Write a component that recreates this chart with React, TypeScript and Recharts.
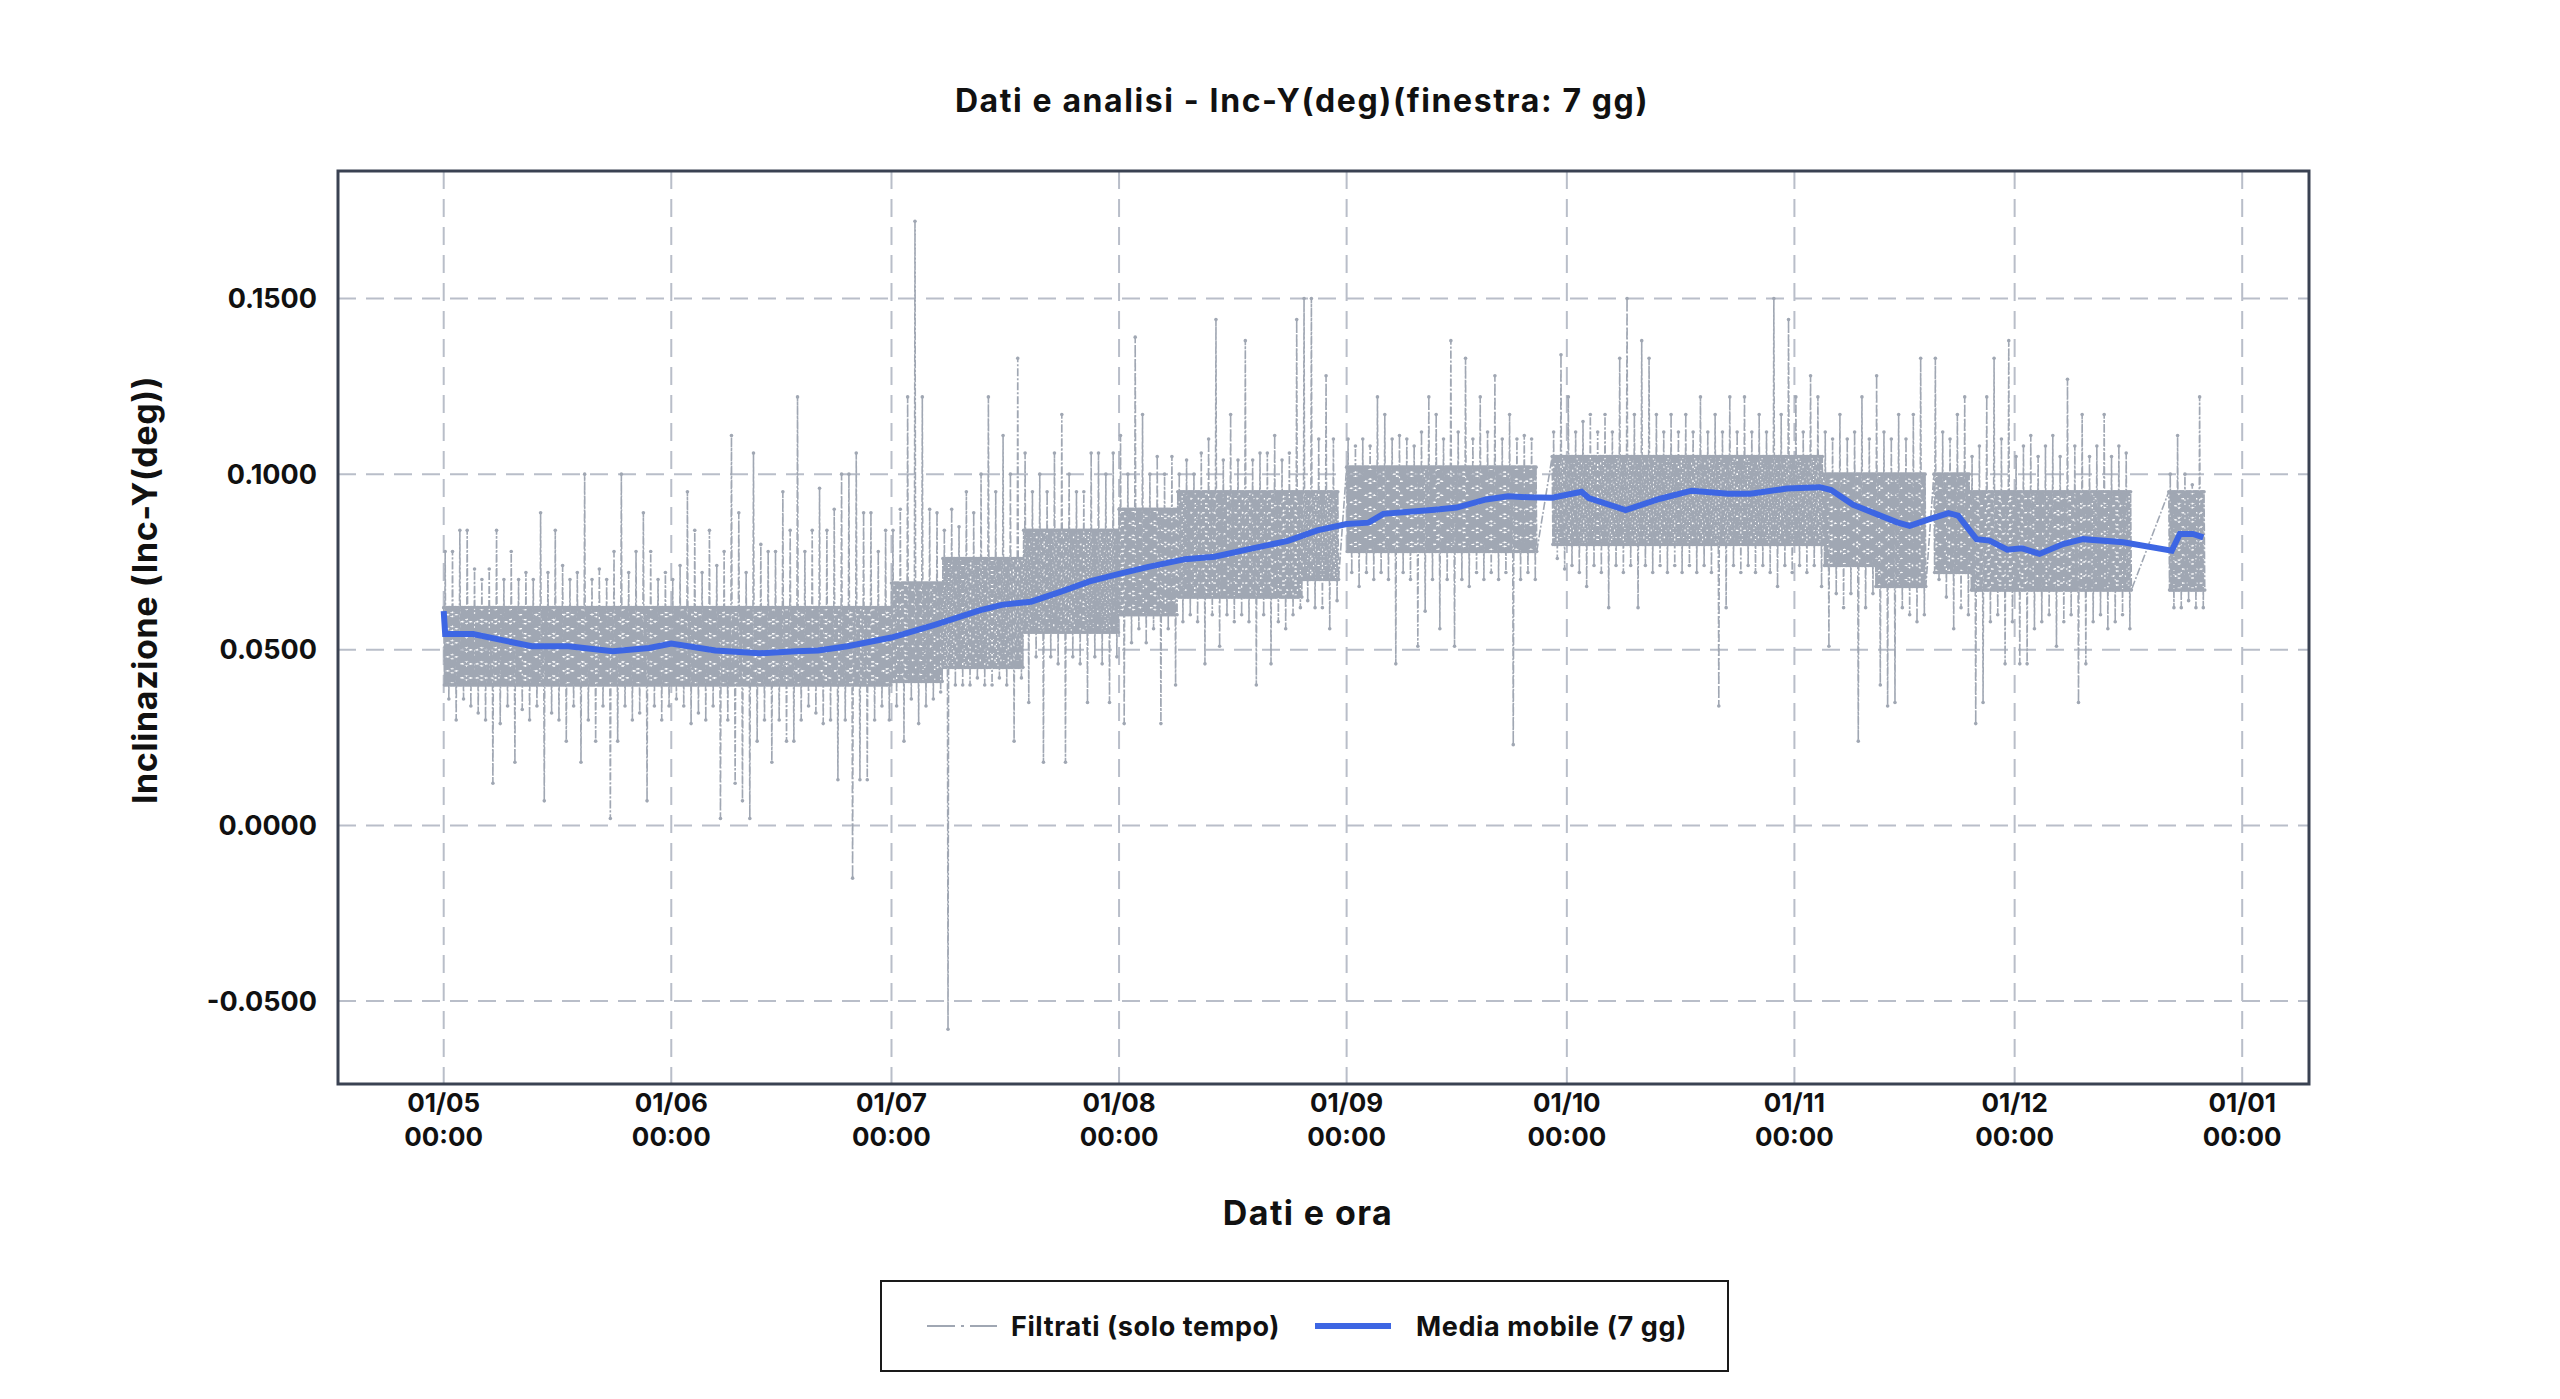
import React from "react";
import { LineChart, Line, XAxis, YAxis, CartesianGrid, ReferenceArea } from "recharts";

// days counted from 01/05; values in thousandths of a degree
const monthTicks = [0, 31, 61, 92, 123, 153, 184, 214, 245];
const monthLabels = ["01/05", "01/06", "01/07", "01/08", "01/09", "01/10", "01/11", "01/12", "01/01"];
const yTicks = [-0.05, 0, 0.05, 0.1, 0.15];

// dense band of the filtered readings, by period
const bandStart = [0, 61, 68, 79, 92, 100, 117, 123, 151, 188, 195, 203, 208, 235];
const bandHi = [62, 69, 76, 84, 90, 95, 95, 102, 105, 100, 100, 100, 95, 95];
const bandLo = [40, 41, 45, 55, 60, 65, 70, 78, 80, 74, 68, 72, 67, 67];

// daily peaks above / below the band (null = no data that day)
const spikeUp = [
  78, 78, 84, 84, 73, 70, 73, 84, 70, 78,
  70, 72, 70, 89, 72, 84, 74, 70, 72, 100,
  70, 73, 70, 78, 100, 72, 78, 89, 78, 70,
  72, 70, 74, 95, 84, 72, 84, 74, 78, 111,
  89, 72, 106, 80, 78, 78, 95, 84, 122, 78,
  84, 96, 84, 90, 100, 100, 106, 89, 89, 78,
  84, 84, 90, 122, 172, 122, 90, 89, 84, 90,
  85, 95, 89, 100, 122, 95, 111, 100, 133, 106,
  95, 100, 95, 106, 117, 100, 95, 95, 106, 106,
  100, 106, 111, 100, 139, 117, 100, 105, 100, 105,
  100, 104, 100, 106, 110, 144, 104, 117, 104, 138,
  104, 106, 106, 111, 104, 106, 144, 150, 150, 110,
  128, 110, null, 110, 108, 110, 108, 122, 117, 110,
  111, 110, 108, 112, 122, 117, 110, 138, 112, 133,
  110, 122, 112, 128, 110, 117, 110, 111, 110, null,
  null, 112, 134, 122, 112, 115, 117, 112, 117, 112,
  133, 150, 117, 138, 133, 117, 112, 117, 112, 117,
  112, 122, 112, 117, 112, 122, 112, 122, 112, 117,
  112, 150, 117, 144, 122, 112, 128, 122, 112, 110,
  117, 110, 112, 122, 110, 128, 112, 110, 117, 110,
  117, 133, null, 133, 112, 110, 117, 122, 105, 108,
  122, 133, 110, 138, 105, 108, 111, 105, 108, 111,
  105, 127, 108, 117, 105, 108, 117, 105, 108, 106,
  null, null, null, null, null, 100, 111, 100, 97, 122,
];
const spikeDown = [
  36, 30, 36, 34, 32, 30, 12, 29, 34, 18,
  33, 30, 34, 7, 32, 30, 24, 34, 18, 30,
  24, 34, 2, 24, 34, 30, 32, 7, 34, 30,
  34, 36, 34, 29, 32, 30, 34, 2, 30, 12,
  7, 2, 24, 30, 18, 30, 24, 24, 30, 34,
  32, 29, 30, 13, 30, -15, 13, 13, 30, 34,
  30, 34, 24, 36, 29, 34, 36, 38, -58, 40,
  40, 40, 42, 40, 40, 42, 40, 24, 42, 35,
  48, 18, 48, 46, 18, 48, 46, 35, 48, 46,
  35, 48, 29, 52, 56, 52, 56, 29, 56, 40,
  58, 60, 58, 46, 60, 51, 60, 58, 60, 58,
  40, 60, 46, 58, 56, 60, 62, 64, 62, 62,
  56, 64, null, 72, 68, 72, 70, 72, 70, 46,
  72, 70, 51, 61, 70, 56, 70, 51, 70, 68,
  72, 70, 72, 70, 72, 23, 70, 72, 70, null,
  null, 76, 73, 74, 72, 68, 74, 72, 62, 74,
  72, 74, 62, 74, 72, 74, 72, 74, 72, 74,
  72, 74, 72, 34, 62, 74, 72, 74, 72, 74,
  72, 68, 74, 72, 74, 72, 74, 68, 51, 66,
  62, 66, 24, 62, 66, 40, 34, 35, 62, 60,
  58, 60, null, 70, 65, 56, 62, 60, 29, 35,
  58, 60, 46, 58, 46, 46, 56, 58, 60, 51,
  58, 60, 35, 46, 58, 60, 56, 58, 60, 56,
  null, null, null, null, null, 62, 62, 64, 62, 62,
];

// 7-day moving average
const maDays = [
  0, 0.2, 4, 12, 17, 23, 28, 31, 37, 43, 48, 51, 55, 61, 67, 73, 76, 80, 84, 88,
  92, 96, 101, 105, 110, 115, 119, 123, 126, 128, 135, 138, 142, 145, 148, 151, 155, 156, 161, 165.7,
  170, 175, 178, 183, 187.5, 189, 192, 198, 199.7, 202.4, 205, 206.3, 208.8, 210.6, 213, 215, 217.4, 220.6, 223.3, 228.8,
  235.4, 236.5, 238.3, 239.7,
];
const maValues = [
  61, 54.5, 54.5, 51, 51, 49.6, 50.5, 51.8, 49.8, 49, 49.6, 49.8, 51, 53.5, 57.2, 61.2, 62.8, 63.7, 66.5, 69.5,
  71.6, 73.6, 75.8, 76.5, 78.8, 81, 84, 85.8, 86.2, 88.7, 89.9, 90.5, 92.8, 93.7, 93.4, 93.3, 95, 93.2, 89.8, 93,
  95.3, 94.4, 94.4, 95.9, 96.3, 95.5, 91.3, 86.3, 85.3, 87.2, 88.9, 88.2, 81.5, 81.1, 78.5, 78.9, 77.3, 80.1, 81.5, 80.6,
  78.2, 83, 83, 82,
];

const X_DOMAIN: [number, number] = [-14.4, 254.1];
const Y_DOMAIN: [number, number] = [-0.0736, 0.1863];
const FONT = "Inter, 'DejaVu Sans', sans-serif";
const GRAY = "#a0a7b3";
const BLUE = "#3d66e3";

function bandIndex(day: number) {
  let k = 0;
  bandStart.forEach((s, i) => {
    if (s <= day) k = i;
  });
  return k;
}

const rawData: { t: number; v: number }[] = [];
spikeUp.forEach((up, day) => {
  const down = spikeDown[day];
  if (up == null || down == null) return;
  const k = bandIndex(day);
  const hi = bandHi[k];
  const lo = bandLo[k];
  const seq = [hi, lo, up, lo, hi, lo, hi, down, hi, lo];
  seq.forEach((v, j) => rawData.push({ t: day + j / seq.length, v: v / 1000 }));
});

const maData = maDays.map((t, i) => ({ t, v: maValues[i] / 1000 }));

function DateTick({ x, y, payload }: { x?: number; y?: number; payload?: { value: number } }) {
  const i = monthTicks.indexOf(payload?.value ?? -1);
  return (
    <text x={x} y={y} textAnchor="middle" fill="#111" fontSize={26} fontWeight={700} fontFamily={FONT}>
      <tspan x={x} dy={20}>{monthLabels[i]}</tspan>
      <tspan x={x} dy={34}>00:00</tspan>
    </text>
  );
}

const labelStyle: React.CSSProperties = {
  position: "absolute",
  whiteSpace: "nowrap",
  fontWeight: 700,
  color: "#111",
};

export default function App() {
  return (
    <div style={{ position: "relative", width: 2560, height: 1399, background: "#fff", fontFamily: FONT }}>
      <style>{"body{margin:0}"}</style>
      <div
        style={{
          ...labelStyle,
          left: 1302,
          top: 100,
          transform: "translate(-50%, -50%)",
          fontSize: 32,
          letterSpacing: 1.6,
        }}
      >
        Dati e analisi - Inc-Y(deg)(finestra: 7 gg)
      </div>

      <LineChart width={2560} height={1399} margin={{ top: 171, right: 251, bottom: 235, left: 208 }}>
        <CartesianGrid stroke="#b9bec9" strokeWidth={2} strokeDasharray="18 10" />
        <XAxis
          type="number"
          dataKey="t"
          domain={X_DOMAIN}
          ticks={monthTicks}
          allowDataOverflow
          axisLine={false}
          tickLine={false}
          height={80}
          tick={<DateTick />}
        />
        <YAxis
          type="number"
          dataKey="v"
          domain={Y_DOMAIN}
          ticks={yTicks}
          allowDataOverflow
          axisLine={false}
          tickLine={false}
          width={130}
          tickMargin={15}
          tickFormatter={(v: number) => v.toFixed(4)}
          tick={{ fill: "#111", fontSize: 27, fontWeight: 700, fontFamily: FONT }}
        />
        <Line
          data={rawData}
          dataKey="v"
          type="linear"
          stroke={GRAY}
          strokeWidth={1.6}
          strokeDasharray="8 2 2 2"
          dot={{ r: 1.8, fill: GRAY, stroke: "none" }}
          isAnimationActive={false}
        />
        <Line
          data={maData}
          dataKey="v"
          type="linear"
          stroke={BLUE}
          strokeWidth={6}
          dot={false}
          isAnimationActive={false}
        />
        <ReferenceArea
          x1={X_DOMAIN[0]}
          x2={X_DOMAIN[1]}
          y1={Y_DOMAIN[0]}
          y2={Y_DOMAIN[1]}
          fill="none"
          stroke="#3a4252"
          strokeWidth={3}
        />
      </LineChart>

      <div
        style={{
          ...labelStyle,
          left: 1308,
          top: 1212,
          transform: "translate(-50%, -50%)",
          fontSize: 34,
          letterSpacing: 1.4,
        }}
      >
        Dati e ora
      </div>
      <div
        style={{
          ...labelStyle,
          left: 144,
          top: 590,
          transform: "translate(-50%, -50%) rotate(-90deg)",
          fontSize: 34,
          letterSpacing: 0.6,
        }}
      >
        Inclinazione (Inc-Y(deg))
      </div>

      <div
        style={{
          position: "absolute",
          left: 880,
          top: 1280,
          width: 849,
          height: 92,
          boxSizing: "border-box",
          border: "2px solid #1a1a1a",
          background: "#fff",
          fontSize: 27,
          fontWeight: 700,
          letterSpacing: 0.6,
          color: "#111",
        }}
      >
        <svg width={70} height={10} style={{ position: "absolute", left: 45, top: 39 }}>
          <line x1={0} y1={5} x2={70} y2={5} stroke={GRAY} strokeWidth={2} strokeDasharray="28 6 3 6" />
        </svg>
        <div style={{ position: "absolute", left: 129, top: 44, transform: "translateY(-50%)", whiteSpace: "nowrap" }}>
          Filtrati (solo tempo)
        </div>
        <svg width={76} height={10} style={{ position: "absolute", left: 433, top: 39 }}>
          <line x1={0} y1={5} x2={76} y2={5} stroke={BLUE} strokeWidth={6} />
        </svg>
        <div style={{ position: "absolute", left: 534, top: 44, transform: "translateY(-50%)", whiteSpace: "nowrap" }}>
          Media mobile (7 gg)
        </div>
      </div>
    </div>
  );
}
